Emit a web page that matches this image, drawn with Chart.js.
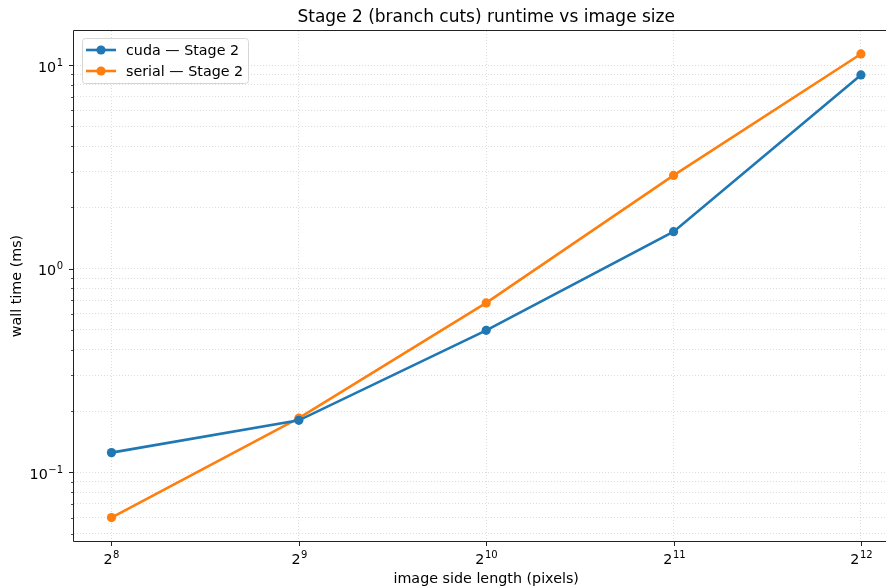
<!DOCTYPE html>
<html>
<head>
<meta charset="utf-8">
<script src="https://cdn.jsdelivr.net/npm/chart.js@4/dist/chart.umd.min.js"></script>
<style>
  html, body { margin: 0; padding: 0; background: #fff; overflow: hidden; }
  /* wider than the window: the axes run past the right edge, as in the cropped original */
  #wrap { width: 903px; height: 587px; }
</style>
</head>
<body>
<div id="wrap"><canvas id="runtimeChart"></canvas></div>
<script>
// image side lengths (pixels), as powers of two
const sizeExponents = [8, 9, 10, 11, 12];
const sizes = sizeExponents.map(e => Math.pow(2, e));

// wall time (ms)
const cudaTimes = [0.125, 0.180, 0.498, 1.52, 8.94];
const serialTimes = [0.060, 0.1846, 0.679, 2.87, 11.33];

// labelled decades on the y axis
const yExponents = [-1, 0, 1];

const colors = {
    cuda: '#1f77b4',
    serial: '#ff7f0e',
    grid: 'rgba(176,176,176,0.55)',
    axis: '#222'
};
const FONT = 'DejaVu Sans';
const LABEL_SIZE = 14.3;
const SUP_SIZE = 10;

// 1..9 x each decade, majors flagged
function logTicks(min, max) {
    const out = [];
    for (let e = Math.floor(Math.log10(min)); e <= Math.ceil(Math.log10(max)); e++) {
        for (let m = 1; m <= 9; m++) {
            const v = m * Math.pow(10, e);
            if (v >= min && v <= max) out.push({ value: v, major: m === 1 });
        }
    }
    return out;
}

const toPoints = (xs, ys) => xs.map((x, i) => ({ x: x, y: ys[i] }));

// base with a raised exponent, like mathtext
function drawPower(ctx, base, exp, x, y, align) {
    ctx.font = LABEL_SIZE + 'px "' + FONT + '"';
    const wb = ctx.measureText(base).width;
    ctx.font = SUP_SIZE + 'px "' + FONT + '"';
    const we = ctx.measureText(exp).width;
    const left = align === 'right' ? x - wb - we - 0.5 : x - (wb + we + 0.5) / 2;
    ctx.font = LABEL_SIZE + 'px "' + FONT + '"';
    ctx.fillText(base, left, y);
    ctx.font = SUP_SIZE + 'px "' + FONT + '"';
    ctx.fillText(exp, left + wb + 0.5, y - 6);
}

// frame, tick marks, tick labels and title, matplotlib style
const axesPlugin = {
    id: 'mplAxes',
    afterDraw(chart) {
        const { ctx, chartArea: a, scales } = chart;
        ctx.save();
        ctx.strokeStyle = colors.axis;
        ctx.lineWidth = 1;
        ctx.beginPath();
        ctx.moveTo(a.left - 0.5, a.top - 0.5);
        ctx.lineTo(a.right, a.top - 0.5);
        ctx.lineTo(a.right, a.bottom + 0.5);
        ctx.lineTo(a.left - 0.5, a.bottom + 0.5);
        ctx.closePath();
        ctx.stroke();

        ctx.fillStyle = '#000';
        ctx.textAlign = 'left';
        ctx.textBaseline = 'alphabetic';

        sizeExponents.forEach((e, i) => {
            const px = Math.round(scales.x.getPixelForValue(sizes[i])) + 0.5;
            ctx.lineWidth = 1;
            ctx.beginPath();
            ctx.moveTo(px, a.bottom + 0.5);
            ctx.lineTo(px, a.bottom + 5);
            ctx.stroke();
            drawPower(ctx, '2', String(e), px, a.bottom + 23, 'center');
        });

        scales.y.ticks.forEach(t => {
            const py = Math.round(scales.y.getPixelForValue(t.value)) + 0.5;
            const len = t.major ? 4.5 : 2.5;
            ctx.lineWidth = t.major ? 1 : 0.8;
            ctx.beginPath();
            ctx.moveTo(a.left - 0.5, py);
            ctx.lineTo(a.left - 0.5 - len, py);
            ctx.stroke();
        });
        yExponents.forEach(e => {
            const py = scales.y.getPixelForValue(Math.pow(10, e));
            drawPower(ctx, '10', String(e).replace('-', '−'), a.left - 11, py + 6.5, 'right');
        });

        // title centred over the axes
        ctx.font = '17px "' + FONT + '"';
        ctx.textAlign = 'center';
        ctx.fillText('Stage 2 (branch cuts) runtime vs image size', (a.left + a.right) / 2, a.top - 9);
        ctx.restore();
    }
};

// legend inside the axes, upper left
const legendPlugin = {
    id: 'innerLegend',
    afterDraw(chart) {
        const { ctx, chartArea: a } = chart;
        const x0 = a.left + 8, y0 = a.top + 7;
        const w = 166, h = 45;
        ctx.save();
        ctx.fillStyle = 'rgba(255,255,255,0.85)';
        ctx.strokeStyle = '#d6d6d6';
        ctx.lineWidth = 1;
        ctx.beginPath();
        ctx.roundRect(x0 + 0.5, y0 + 0.5, w, h, 3);
        ctx.fill();
        ctx.stroke();

        ctx.font = LABEL_SIZE + 'px "' + FONT + '"';
        ctx.textBaseline = 'middle';
        chart.data.datasets.forEach((ds, i) => {
            const cy = y0 + 12 + i * 21;
            ctx.strokeStyle = ds.borderColor;
            ctx.lineWidth = 2.6;
            ctx.beginPath();
            ctx.moveTo(x0 + 4, cy);
            ctx.lineTo(x0 + 34, cy);
            ctx.stroke();
            ctx.fillStyle = ds.borderColor;
            ctx.beginPath();
            ctx.arc(x0 + 19, cy, 4.6, 0, Math.PI * 2);
            ctx.fill();
            ctx.fillStyle = '#000';
            ctx.fillText(ds.label, x0 + 44, cy + 1);
        });
        ctx.restore();
    }
};

const seriesStyle = color => ({
    borderColor: color,
    backgroundColor: color,
    borderWidth: 2.6,
    pointRadius: 4.6,
    pointHoverRadius: 4.6,
    pointBorderWidth: 0,
    tension: 0
});

const ctx = document.getElementById('runtimeChart').getContext('2d');
new Chart(ctx, {
    type: 'line',
    data: {
        datasets: [
            Object.assign({ label: 'cuda — Stage 2', data: toPoints(sizes, cudaTimes) }, seriesStyle(colors.cuda)),
            Object.assign({ label: 'serial — Stage 2', data: toPoints(sizes, serialTimes) }, seriesStyle(colors.serial))
        ]
    },
    options: {
        responsive: true,
        maintainAspectRatio: false,
        animation: false,
        layout: { padding: { top: 31, left: 0, right: 0, bottom: 0 } },
        plugins: {
            legend: { display: false },
            tooltip: { enabled: false },
            title: { display: false }
        },
        scales: {
            x: {
                type: 'logarithmic',
                bounds: 'data',
                min: Math.pow(2, 7.8),
                max: Math.pow(2, 12.2),
                afterBuildTicks: scale => {
                    scale.ticks = sizes.map(v => ({ value: v, major: true }));
                },
                afterFit: scale => {
                    scale.height = 46;
                    scale.paddingLeft = 0;
                    scale.paddingRight = 0;
                },
                ticks: { display: false, autoSkip: false },
                grid: { color: colors.grid, lineWidth: 0.8, drawTicks: false },
                border: { display: false, dash: [1, 2] },
                title: {
                    display: true,
                    text: 'image side length (pixels)',
                    color: '#000',
                    font: { family: FONT, size: LABEL_SIZE },
                    padding: { top: 0, bottom: -1 }
                }
            },
            y: {
                type: 'logarithmic',
                bounds: 'data',
                min: Math.pow(10, -1.337),
                max: Math.pow(10, 1.167),
                afterBuildTicks: scale => {
                    scale.ticks = logTicks(scale.min, scale.max);
                },
                afterFit: scale => {
                    scale.width = 74;
                    scale.paddingTop = 0;
                    scale.paddingBottom = 0;
                },
                ticks: { display: false, autoSkip: false },
                grid: { color: colors.grid, lineWidth: 0.8, drawTicks: false },
                border: { display: false, dash: [1, 2] },
                title: {
                    display: true,
                    text: 'wall time (ms)',
                    color: '#000',
                    font: { family: FONT, size: LABEL_SIZE },
                    padding: { top: 9, bottom: 0 }
                }
            }
        }
    },
    plugins: [axesPlugin, legendPlugin]
});
</script>
</body>
</html>
